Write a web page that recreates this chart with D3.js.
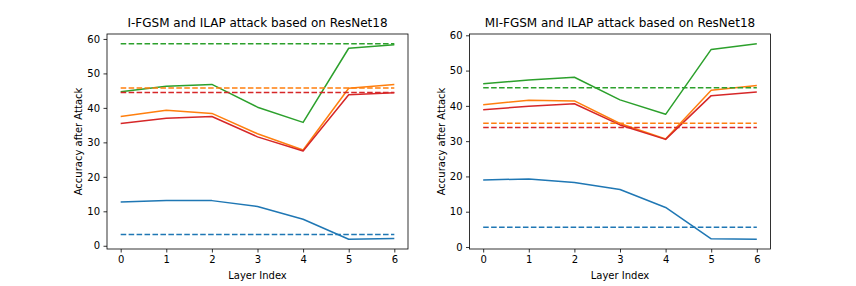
<!DOCTYPE html>
<html>
<head>
<meta charset="utf-8">
<script src="https://cdn.jsdelivr.net/npm/d3@7"></script>
<style>
  body { margin: 0; background: #fff; }
  text { font-family: "DejaVu Sans", sans-serif; fill: #000; }
</style>
</head>
<body>
<div id="chart"></div>
<script>
// layer indices on the x axis
const layers = [0, 1, 2, 3, 4, 5, 6];
const seriesColors = ["#1f77b4", "#ff7f0e", "#2ca02c", "#d62728"];

// I-FGSM panel: ILAP per layer (solid) and baseline (dashed)
const ifgsmTitle = "I-FGSM and ILAP attack based on ResNet18";
const ifgsmBlue   = [12.7, 13.1, 13.1, 11.4, 7.7, 1.9, 2.1];
const ifgsmOrange = [37.5, 39.3, 38.4, 32.5, 27.8, 45.7, 46.8];
const ifgsmGreen  = [44.7, 46.3, 46.8, 40.2, 35.8, 57.3, 58.3];
const ifgsmRed    = [35.5, 37.0, 37.5, 31.6, 27.5, 43.8, 44.4];
const ifgsmBaseline = [3.3, 45.8, 58.6, 44.5];

// MI-FGSM panel
const mifgsmTitle = "MI-FGSM and ILAP attack based on ResNet18";
const mifgsmBlue   = [19.0, 19.3, 18.3, 16.3, 11.2, 2.3, 2.2];
const mifgsmOrange = [40.3, 41.6, 41.4, 35.0, 30.6, 44.4, 45.8];
const mifgsmGreen  = [46.3, 47.3, 48.1, 41.7, 37.6, 56.0, 57.6];
const mifgsmRed    = [38.9, 39.9, 40.6, 34.6, 30.5, 42.9, 43.9];
const mifgsmBaseline = [5.6, 35.1, 45.1, 33.9];

const yTicks = [0, 10, 20, 30, 40, 50, 60];

const width = 856, height = 286;
const svg = d3.select("#chart").append("svg")
    .attr("width", width)
    .attr("height", height);

const panels = [
    { left: 107, title: ifgsmTitle, series: [ifgsmBlue, ifgsmOrange, ifgsmGreen, ifgsmRed], base: ifgsmBaseline },
    { left: 469.5, title: mifgsmTitle, series: [mifgsmBlue, mifgsmOrange, mifgsmGreen, mifgsmRed], base: mifgsmBaseline }
];

const plotW = 301, plotTop = 34, plotH = 215;

panels.forEach(p => {
    const g = svg.append("g").attr("transform", `translate(${p.left},${plotTop})`);

    // matplotlib style 5% margins
    const xScale = d3.scaleLinear().domain([-0.3, 6.3]).range([0, plotW]);
    const all = p.series.flat().concat(p.base);
    const lo = d3.min(all), hi = d3.max(all), pad = (hi - lo) * 0.05;
    const yScale = d3.scaleLinear().domain([lo - pad, hi + pad]).range([plotH, 0]);

    const line = d3.line().x((d, i) => xScale(layers[i])).y(d => yScale(d));

    p.series.forEach((s, i) => {
        g.append("path")
            .datum(s)
            .attr("d", line)
            .attr("fill", "none")
            .attr("stroke", seriesColors[i])
            .attr("stroke-width", 1.5)
            .attr("stroke-linejoin", "round");
    });

    p.base.forEach((b, i) => {
        g.append("line")
            .attr("x1", xScale(layers[0]))
            .attr("x2", xScale(layers[layers.length - 1]))
            .attr("y1", yScale(b))
            .attr("y2", yScale(b))
            .attr("stroke", seriesColors[i])
            .attr("stroke-width", 1.5)
            .attr("stroke-dasharray", "5.55,2.4");
    });

    // axes
    const xAxis = g.append("g")
        .attr("transform", `translate(0,${plotH})`)
        .call(d3.axisBottom(xScale).tickValues(layers).tickFormat(d3.format("d")).tickSize(3.5).tickPadding(3.5));
    const yAxis = g.append("g")
        .call(d3.axisLeft(yScale).tickValues(yTicks).tickSize(3.5).tickPadding(3.5));
    [xAxis, yAxis].forEach(a => {
        a.select(".domain").remove();
        a.selectAll("line").attr("stroke", "#000").attr("stroke-width", 0.8);
        a.selectAll("text").style("font-size", "10px").style("font-family", "DejaVu Sans, sans-serif");
    });

    g.append("rect")
        .attr("width", plotW)
        .attr("height", plotH)
        .attr("fill", "none")
        .attr("stroke", "#000")
        .attr("stroke-width", 0.8);

    g.append("text")
        .attr("x", plotW / 2)
        .attr("y", -7)
        .attr("text-anchor", "middle")
        .style("font-size", "12px")
        .text(p.title);

    g.append("text")
        .attr("x", plotW / 2)
        .attr("y", plotH + 30)
        .attr("text-anchor", "middle")
        .style("font-size", "10px")
        .text("Layer Index");

    g.append("text")
        .attr("transform", `translate(-25,${plotH / 2}) rotate(-90)`)
        .attr("text-anchor", "middle")
        .style("font-size", "10px")
        .text("Accuracy after Attack");
});
</script>
</body>
</html>
